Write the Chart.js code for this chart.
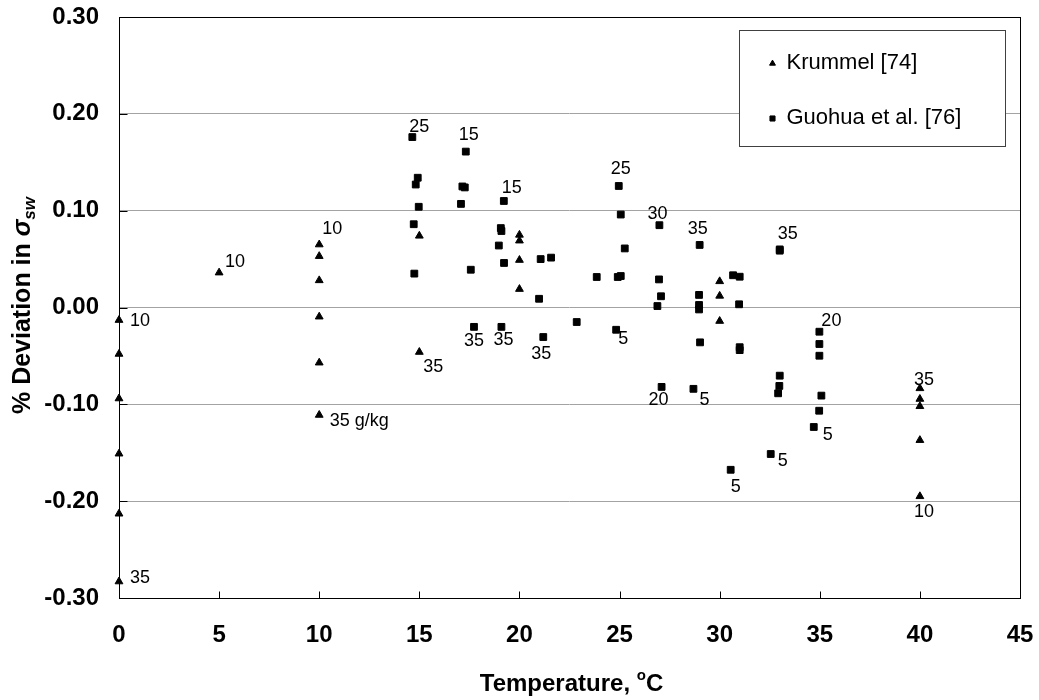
<!DOCTYPE html>
<html>
<head>
<meta charset="utf-8">
<title>% Deviation in seawater surface tension vs temperature</title>
<script src="https://cdn.jsdelivr.net/npm/chart.js@4.4.1/dist/chart.umd.min.js"></script>
<style>
  html, body { margin: 0; padding: 0; background: #fff; }
  #wrap { position: relative; width: 1039px; height: 700px; }
</style>
</head>
<body>
<div id="wrap"><canvas id="chart"></canvas></div>
<script>
// ---- Data -------------------------------------------------------------
// Krummel [74]: temperature (°C), % deviation, salinity tag (g/kg)
const krummelTemp = [0, 0, 0, 0, 0, 0, 5, 10, 10, 10, 10, 10, 10, 15, 15,
  20, 20, 20, 20, 30, 30, 30, 40, 40, 40, 40, 40];
const krummelDev = [-0.013, -0.048, -0.094, -0.151, -0.213, -0.283, 0.036,
  0.065, 0.053, 0.028, -0.0095, -0.057, -0.111, 0.074, -0.046,
  0.075, 0.069, 0.049, 0.019, 0.027, 0.012, -0.014,
  -0.0835, -0.0945, -0.102, -0.137, -0.195];
const krummelSal = ['10', '', '', '', '', '35', '10', '10', '', '', '', '', '35 g/kg', '', '35',
  '', '', '', '', '', '', '', '35', '', '', '', '10'];

// Guohua et al. [76]
const guohuaTemp = [14.65, 14.92, 14.82, 14.97, 14.72, 14.75,
  17.32, 17.15, 17.27, 17.08, 17.57, 17.73,
  19.22, 19.07, 19.10, 18.97, 19.23, 19.10,
  21.06, 21.58, 20.98, 21.19, 22.86, 23.86,
  24.96, 25.06, 25.26, 24.91, 25.06, 24.83,
  26.99, 26.97, 27.07, 26.89, 27.10,
  29.00, 28.97, 28.97, 28.97, 29.02, 28.69,
  30.67, 31.00, 30.97, 31.00, 31.00, 30.55,
  33.00, 33.00, 33.00, 32.98, 32.92, 32.55,
  34.98, 34.98, 34.98, 35.08, 34.97, 34.70];
const guohuaDev = [0.176, 0.134, 0.127, 0.104, 0.086, 0.035,
  0.161, 0.125, 0.124, 0.107, 0.039, -0.020,
  0.110, 0.082, 0.079, 0.064, 0.046, -0.020,
  0.050, 0.0515, 0.009, -0.0305, -0.015, 0.0315,
  0.1255, 0.096, 0.061, 0.0315, 0.0325, -0.023,
  0.085, 0.029, 0.0116, 0.0015, -0.082,
  0.0646, 0.013, 0.0026, -0.002, -0.036, -0.084,
  0.0333, 0.0318, 0.0033, -0.041, -0.044, -0.1676,
  0.060, 0.0587, -0.0704, -0.081, -0.0886, -0.1513,
  -0.025, -0.0377, -0.0498, -0.091, -0.1066, -0.1234];
const guohuaSal = ['25', '', '', '', '', '',
  '15', '', '', '', '', '35',
  '15', '', '', '', '', '35',
  '', '', '', '35', '', '',
  '25', '', '', '', '', '5',
  '30', '', '', '', '20',
  '35', '', '', '', '', '5',
  '', '', '', '', '', '5',
  '35', '', '', '', '', '5',
  '20', '', '', '', '', '5'];

const seriesNames = ['Krummel [74]', 'Guohua et al. [76]'];

// Axis ticks
const xTicks = [0, 5, 10, 15, 20, 25, 30, 35, 40, 45];
const xTickLabels = ['0', '5', '10', '15', '20', '25', '30', '35', '40', '45'];
const yTicks = [-0.3, -0.2, -0.1, 0, 0.1, 0.2, 0.3];
const yTickLabels = ['-0.30', '-0.20', '-0.10', '0.00', '0.10', '0.20', '0.30'];

// ---- Styling ----------------------------------------------------------
const FONT = '"Liberation Sans", Arial, Helvetica, sans-serif';
const GRID = '#a3a3a3';
// plot rectangle inside the 1039x700 canvas
const PLOT = { left: 119, top: 17, right: 1020, bottom: 598 };

// Where each salinity tag sits relative to its marker (dx, dy in px, text centre)
const krummelTagOffset = { 0: [21, 1], 5: [21, -4], 6: [16, -11], 7: [13, -16], 12: [40, 6],
  14: [14, 15], 22: [4, -8], 26: [4, 16] };
const guohuaTagOffset = { 0: [7, -10], 6: [3, -17], 11: [0, 14], 12: [8, -13], 17: [2, 13],
  21: [-2, 17], 24: [2, -17], 29: [7, 9], 30: [-2, -11], 34: [-3, 13], 35: [-2, -16],
  40: [11, 11], 46: [5, 17], 47: [8, -15], 52: [12, 7], 53: [12, -11], 58: [14, 8] };

const toPoints = (xs, ys) => xs.map((t, i) => ({ x: t, y: ys[i] }));

const noScalePadding = s => { s.paddingTop = 0; s.paddingBottom = 0; s.paddingLeft = 0; s.paddingRight = 0; };

// Frame, inward tick marks, salinity tags, axis titles and legend box
const decor = {
  id: 'decor',
  beforeDatasetsDraw(chart) {
    const { ctx, chartArea: a, scales: { x, y } } = chart;
    ctx.save();
    ctx.strokeStyle = '#000';
    ctx.lineWidth = 1;
    const L = Math.round(a.left) + 0.5, T = Math.round(a.top) + 0.5;
    const R = Math.round(a.right) + 0.5, B = Math.round(a.bottom) + 0.5;
    ctx.strokeRect(L, T, R - L, B - T);
    ctx.beginPath();
    y.ticks.forEach(t => {
      const py = Math.round(y.getPixelForValue(t.value)) + 0.5;
      ctx.moveTo(L, py); ctx.lineTo(L + 8, py);
    });
    x.ticks.forEach(t => {
      const px = Math.round(x.getPixelForValue(t.value)) + 0.5;
      ctx.moveTo(px, B); ctx.lineTo(px, B - 7);
    });
    ctx.stroke();
    ctx.restore();
  },
  afterDatasetsDraw(chart) {
    const { ctx } = chart;
    ctx.save();
    ctx.fillStyle = '#000';
    ctx.font = '18px ' + FONT;
    ctx.textAlign = 'center';
    ctx.textBaseline = 'middle';
    const tagSets = [[krummelSal, krummelTagOffset], [guohuaSal, guohuaTagOffset]];
    tagSets.forEach(([tags, offs], di) => {
      const meta = chart.getDatasetMeta(di);
      tags.forEach((txt, i) => {
        if (!txt) return;
        const el = meta.data[i];
        const [dx, dy] = offs[i] || [10, -10];
        ctx.fillText(txt, el.x + dx, el.y + dy);
      });
    });
    ctx.restore();
  },
  afterDraw(chart) {
    const { ctx, chartArea: a } = chart;
    ctx.save();
    ctx.fillStyle = '#000';
    ctx.textBaseline = 'alphabetic';
    ctx.textAlign = 'left';

    // x-axis title: Temperature, °C (superscript o)
    const big = 'bold 24px ' + FONT, small = 'bold 15px ' + FONT;
    const p1 = 'Temperature, ', p2 = 'o', p3 = 'C';
    ctx.font = big; const w1 = ctx.measureText(p1).width, w3 = ctx.measureText(p3).width;
    ctx.font = small; const w2 = ctx.measureText(p2).width;
    const xs = (a.left + a.right) / 2 + 2 - (w1 + w2 + w3) / 2;
    const base = 691;
    ctx.font = big; ctx.fillText(p1, xs, base);
    ctx.font = small; ctx.fillText(p2, xs + w1, base - 11);
    ctx.font = big; ctx.fillText(p3, xs + w1 + w2, base);

    // y-axis title: % Deviation in σ_sw
    ctx.save();
    ctx.translate(30, (a.top + a.bottom) / 2 - 2);
    ctx.rotate(-Math.PI / 2);
    const q1 = '% Deviation in ', q2 = '\u03C3', q3 = 'sw';
    const f1 = 'bold 25px ' + FONT, f2 = 'italic bold 25px ' + FONT, f3 = 'italic bold 17px ' + FONT;
    ctx.font = f1; const v1 = ctx.measureText(q1).width;
    ctx.font = f2; const v2 = ctx.measureText(q2).width;
    ctx.font = f3; const v3 = ctx.measureText(q3).width;
    const s = -(v1 + v2 + v3) / 2;
    ctx.font = f1; ctx.fillText(q1, s, 0);
    ctx.font = f2; ctx.fillText(q2, s + v1, 0);
    ctx.font = f3; ctx.fillText(q3, s + v1 + v2, 5);
    ctx.restore();

    // legend
    const bx = Math.round(a.right - 281) + 0.5, by = Math.round(a.top + 13) + 0.5;
    const bw = 266, bh = 116;
    ctx.fillStyle = '#fff';
    ctx.fillRect(bx, by, bw, bh);
    ctx.strokeStyle = '#404040';
    ctx.lineWidth = 1;
    ctx.strokeRect(bx, by, bw, bh);
    const rows = [by + 32, by + 87];
    const styles = ['triangle', 'rect'];
    const radii = [3.4, 3.6];
    rows.forEach((ry, i) => {
      ctx.fillStyle = '#000';
      ctx.strokeStyle = '#000';
      Chart.helpers.drawPoint(ctx, { pointStyle: styles[i], radius: radii[i], borderWidth: 1 }, bx + 33, ry + 1);
      ctx.fillStyle = '#000';
      ctx.font = '22px ' + FONT;
      ctx.textBaseline = 'middle';
      ctx.fillText(seriesNames[i], bx + 47, ry);
    });
    ctx.restore();
  }
};

const chart = new Chart(document.getElementById('chart'), {
  type: 'scatter',
  data: {
    datasets: [
      {
        label: seriesNames[0],
        data: toPoints(krummelTemp, krummelDev),
        pointStyle: 'triangle',
        pointRadius: 4.5,
        backgroundColor: '#000',
        borderColor: '#000',
        borderWidth: 1,
        clip: false
      },
      {
        label: seriesNames[1],
        data: toPoints(guohuaTemp, guohuaDev),
        pointStyle: 'rect',
        pointRadius: 4.8,
        backgroundColor: '#000',
        borderColor: '#000',
        borderWidth: 1,
        clip: false
      }
    ]
  },
  options: {
    responsive: true,
    maintainAspectRatio: false,
    animation: false,
    events: [],
    layout: { padding: { top: PLOT.top, right: 1039 - PLOT.right, left: 0, bottom: 0 } },
    plugins: {
      legend: { display: false },
      tooltip: { enabled: false },
      title: { display: false }
    },
    scales: {
      x: {
        type: 'linear',
        min: 0,
        max: 45,
        afterBuildTicks: s => { s.ticks = xTicks.map(v => ({ value: v })); },
        afterFit: s => { s.height = 700 - PLOT.bottom; noScalePadding(s); },
        grid: { display: false, drawTicks: false },
        border: { display: false },
        ticks: {
          padding: 23,
          maxRotation: 0,
          autoSkip: false,
          color: '#000',
          font: { family: FONT, size: 24, weight: 'bold' },
          callback: (v, i) => xTickLabels[i]
        }
      },
      y: {
        type: 'linear',
        min: -0.3,
        max: 0.3,
        afterBuildTicks: s => { s.ticks = yTicks.map(v => ({ value: v })); },
        afterFit: s => { s.width = PLOT.left; noScalePadding(s); },
        grid: {
          drawTicks: false,
          lineWidth: 1,
          color: c => (c.tick && Math.abs(Math.abs(c.tick.value) - 0.3) < 1e-9) ? 'rgba(0,0,0,0)' : GRID
        },
        border: { display: false },
        ticks: {
          padding: 20,
          autoSkip: false,
          color: '#000',
          font: { family: FONT, size: 24, weight: 'bold' },
          callback: (v, i) => yTickLabels[i]
        }
      }
    }
  },
  plugins: [decor]
});

// Nudge the layout padding so the plot rectangle lands exactly on PLOT
const ca = chart.chartArea;
const pad = chart.options.layout.padding;
pad.top += PLOT.top - ca.top;
pad.left += PLOT.left - ca.left;
pad.right += ca.right - PLOT.right;
pad.bottom += ca.bottom - PLOT.bottom;
chart.update();
</script>
</body>
</html>
